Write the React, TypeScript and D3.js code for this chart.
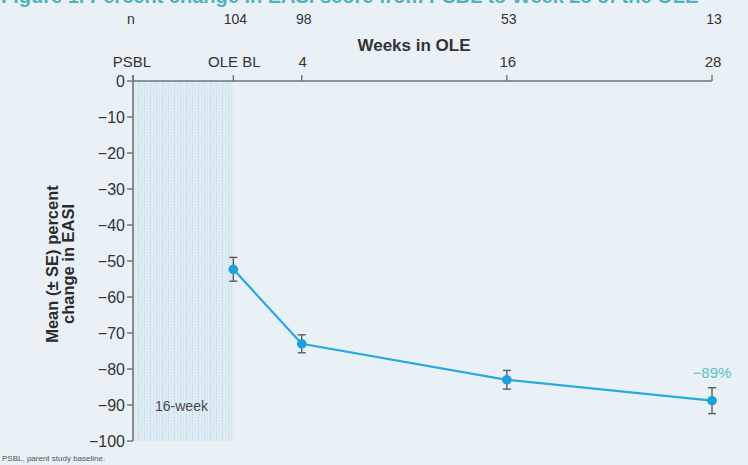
import React from "react";
import * as d3 from "d3";

// ---- data ----
const xTickLabels = ["PSBL", "OLE BL", "4", "16", "28"];
const xTickWeeks = [-5.87, 0, 4, 16, 28];
const nLabels = ["n", "104", "98", "53", "13"];
const pointWeeks = [0, 4, 16, 28];
const meanChange = [-52.3, -73, -83, -88.8];
const seValues = [3.3, 2.5, 2.6, 3.6];
const yTicks = [0, -10, -20, -30, -40, -50, -60, -70, -80, -90, -100];
const endLabel = "−89%";

const W = 748;
const H = 465;
const FONT = "'Liberation Sans', Arial, Helvetica, sans-serif";

export default function App() {
  const x = d3.scaleLinear().domain([-5.87, 28]).range([133, 712]);
  const y = d3.scaleLinear().domain([-100, 0]).range([441, 81]);
  const fmt = d3.format("d");

  const line = d3
    .line<number>()
    .x((_, i) => x(pointWeeks[i]))
    .y((d) => y(d));

  const axisColor = "#6f7479";
  const textColor = "#333";
  const lineColor = "#2aa8e0";

  return (
    <svg
      width={W}
      height={H}
      style={{ position: "absolute", left: 0, top: 0, display: "block" }}
      fontFamily={FONT}
    >
      <defs>
        <pattern id="dots" width="6" height="3" patternUnits="userSpaceOnUse">
          <rect width="6" height="3" fill="#e0ecf4" />
          <rect x="0" y="0" width="1.2" height="1.6" fill="#c4d8e7" />
          <rect x="3" y="1.5" width="1" height="1.2" fill="#cfe0ec" />
        </pattern>
      </defs>
      <rect width={W} height={H} fill="#e9f1f6" />

      {/* title, cut off at the top edge as in the source */}
      <text x={1} y={3} fontSize={20} fontWeight="bold" fill="#52b1bd">
        Figure 1. Percent change in EASI score from PSBL to Week 28 of the OLE
      </text>

      {/* shaded 16-week region */}
      <rect
        x={x(-5.87) + 1}
        y={y(0)}
        width={x(0) - x(-5.87) - 1}
        height={y(-100) - y(0)}
        fill="url(#dots)"
      />
      <text x={155} y={411} fontSize={14} fill="#4a4a4a">
        16-week
      </text>

      {/* n row */}
      {nLabels.map((t, i) => (
        <text
          key={"n" + i}
          x={i === 0 ? x(xTickWeeks[i]) - 2 : x(xTickWeeks[i]) + 2}
          y={24}
          fontSize={14}
          textAnchor="middle"
          fill={textColor}
        >
          {t}
        </text>
      ))}
      <text
        x={414}
        y={51}
        fontSize={17}
        fontWeight="bold"
        textAnchor="middle"
        fill={textColor}
      >
        Weeks in OLE
      </text>

      {/* top x axis */}
      <line
        x1={x(-5.87)}
        x2={x(28)}
        y1={y(0)}
        y2={y(0)}
        stroke={axisColor}
        strokeWidth={1.6}
      />
      {xTickWeeks.map((w, i) => (
        <g key={"xt" + i}>
          <line
            x1={x(w)}
            x2={x(w)}
            y1={y(0)}
            y2={y(0) - 6}
            stroke={axisColor}
            strokeWidth={1.4}
          />
          <text
            x={x(w) + (i === 0 ? -1 : 1)}
            y={67}
            fontSize={15}
            textAnchor="middle"
            fill={textColor}
          >
            {xTickLabels[i]}
          </text>
        </g>
      ))}

      {/* y axis */}
      <line
        x1={x(-5.87)}
        x2={x(-5.87)}
        y1={y(0) - 6}
        y2={y(-100)}
        stroke={axisColor}
        strokeWidth={1.6}
      />
      {yTicks.map((v) => (
        <g key={"yt" + v}>
          <line
            x1={x(-5.87) - 6}
            x2={x(-5.87)}
            y1={y(v)}
            y2={y(v)}
            stroke={axisColor}
            strokeWidth={1.4}
          />
          <text
            x={x(-5.87) - 8}
            y={y(v) + 5.5}
            fontSize={16}
            textAnchor="end"
            fill={textColor}
          >
            {v < 0 ? "−" + fmt(-v) : fmt(v)}
          </text>
        </g>
      ))}

      {/* y title */}
      <g transform="translate(58,264) rotate(-90)">
        <text x={0} y={0} fontSize={16.5} fontWeight="bold" textAnchor="middle" fill="#2b2b2b">
          Mean (± SE) percent
        </text>
        <text x={0} y={15.5} fontSize={16.5} fontWeight="bold" textAnchor="middle" fill="#2b2b2b">
          change in EASI
        </text>
      </g>

      {/* line */}
      <path
        d={line(meanChange) || ""}
        fill="none"
        stroke={lineColor}
        strokeWidth={2.2}
      />

      {/* error bars + points */}
      {meanChange.map((m, i) => {
        const cx = x(pointWeeks[i]);
        const top = y(m + seValues[i]);
        const bot = y(m - seValues[i]);
        return (
          <g key={"pt" + i}>
            <line x1={cx} x2={cx} y1={top} y2={bot} stroke="#5a5f63" strokeWidth={1.4} />
            <line x1={cx - 4} x2={cx + 4} y1={top} y2={top} stroke="#5a5f63" strokeWidth={1.4} />
            <line x1={cx - 4} x2={cx + 4} y1={bot} y2={bot} stroke="#5a5f63" strokeWidth={1.4} />
            <circle cx={cx} cy={y(m)} r={4.8} fill="#1d9fdc" />
          </g>
        );
      })}

      <text
        x={x(28)}
        y={y(meanChange[3]) - 23}
        fontSize={15}
        textAnchor="middle"
        fill="#5cc0c4"
      >
        {endLabel}
      </text>

      {/* footnote */}
      <text x={2} y={461} fontSize={8} fill="#555">
        PSBL, parent study baseline.
      </text>
    </svg>
  );
}
